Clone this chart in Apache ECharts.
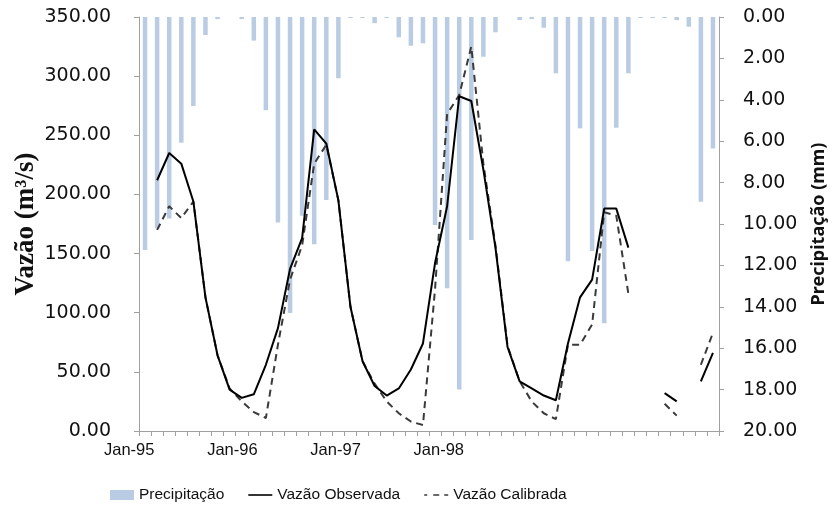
<!DOCTYPE html>
<html>
<head>
<meta charset="utf-8">
<script src="https://cdn.jsdelivr.net/npm/echarts@6/dist/echarts.min.js"></script>
<style>
html,body{margin:0;padding:0;background:#fff;}
#chart{width:837px;height:506px;}
</style>
</head>
<body>
<div id="chart"></div>
<script>
const months = [
  'Jan-95','Feb-95','Mar-95','Apr-95','May-95','Jun-95','Jul-95','Aug-95','Sep-95','Oct-95','Nov-95','Dec-95',
  'Jan-96','Feb-96','Mar-96','Apr-96','May-96','Jun-96','Jul-96','Aug-96','Sep-96','Oct-96','Nov-96','Dec-96',
  'Jan-97','Feb-97','Mar-97','Apr-97','May-97','Jun-97','Jul-97','Aug-97','Sep-97','Oct-97','Nov-97','Dec-97',
  'Jan-98','Feb-98','Mar-98','Apr-98','May-98','Jun-98','Jul-98','Aug-98','Sep-98','Oct-98','Nov-98','Dec-98'
];
const xTickLabels = ['Jan-95','Jan-96','Jan-97','Jan-98'];

const precipitacao = [
  11.26,10.2,9.73,6.07,4.3,0.87,0.1,0,0.1,1.14,4.5,9.93,
  14.3,9.6,10.98,8.84,2.96,0.05,0.05,0.3,0.05,0.98,1.39,1.27,
  10.05,13.1,18.0,10.77,1.92,0.74,0,0.15,0.1,0.52,2.72,11.8,
  5.38,11.3,14.8,5.35,2.72,0.05,0.05,0.05,0.15,0.47,8.92,6.35
];
const vazaoObservada = [
  null,212,235,226,194,113,64,35,28,31,56,87,
  137,163,255,243,195,105,59,38,30,36,52,74,
  142,190,283,279,221,155,71,42,36,30,26,74,
  113,128,188,188,155,null,null,32,25,null,42,66
];
const vazaoCalibrada = [
  null,170,190,180,194,113,64,36,25,16,11,73,
  128,157,226,242,195,105,59,40,25,15,8,5,
  120,268,284,325,226,157,72,42,25,15,10,73,
  73,90,185,182,116,null,null,23,13,null,56,83
];

const leftTicks = {min:0, max:350, interval:50};
const rightTicks = {min:0, max:20, interval:2};

const chart = echarts.init(document.getElementById('chart'), null, {renderer:'canvas'});
const axisGray = '#a0a0a0';
const txt = '#111';
chart.setOption({
  animation:false,
  backgroundColor:'#ffffff',
  grid:[
    {left:139, right:118, top:17, bottom:75},
    {left:77.6, width:412.8, top:17, bottom:75}
  ],
  legend:{
    left:105, top:482,
    itemWidth:24, itemHeight:10, itemGap:24,
    textStyle:{fontFamily:'Liberation Sans', fontSize:15.5, color:txt},
    data:[
      {name:'Precipitação', icon:'rect'},
      {name:'Vazão Observada', icon:'path://M0,0h24v1.6h-24z'},
      {name:'Vazão Calibrada', icon:'path://M0,0h3v1.6h-3z M9,0h6v1.6h-6z M20,0h4v1.6h-4z'}
    ]
  },
  xAxis:[
    {
      type:'category', gridIndex:0, data:months, boundaryGap:true,
      axisLine:{show:true, lineStyle:{color:axisGray, width:1}},
      axisTick:{show:true, interval:0, length:5, inside:false, lineStyle:{color:axisGray}},
      axisLabel:{show:false},
      splitLine:{show:false}
    },
    {
      type:'category', gridIndex:1, data:xTickLabels, boundaryGap:true,
      axisLine:{show:false}, axisTick:{show:false},
      axisLabel:{show:true, margin:11, fontFamily:'Liberation Sans', fontSize:16.5, color:txt, interval:0},
      splitLine:{show:false}
    }
  ],
  yAxis:[
    {
      type:'value', gridIndex:0, position:'left',
      min:leftTicks.min, max:leftTicks.max, interval:leftTicks.interval,
      name:'Vazão (m³/s)', nameLocation:'middle', nameGap:99, nameRotate:90, nameMoveOverlap:false,
      nameTextStyle:{fontFamily:'Liberation Serif', fontWeight:'bold', fontSize:27, color:txt},
      axisLine:{show:true, lineStyle:{color:axisGray}},
      axisTick:{show:true, length:5, lineStyle:{color:axisGray}},
      axisLabel:{margin:28, fontFamily:'DejaVu Sans', fontSize:19, color:txt,
        formatter:v=>v.toFixed(2)},
      splitLine:{show:false}
    },
    {
      type:'value', gridIndex:0, position:'right', inverse:true,
      min:rightTicks.min, max:rightTicks.max, interval:rightTicks.interval,
      name:'Precipitação (mm)', nameLocation:'middle', nameGap:91, nameRotate:90,
      nameTextStyle:{fontFamily:'Noto Sans', fontWeight:'bold', fontSize:18, color:txt},
      axisLine:{show:true, lineStyle:{color:axisGray}},
      axisTick:{show:true, length:5, lineStyle:{color:axisGray}},
      axisLabel:{margin:24, fontFamily:'DejaVu Sans', fontSize:19, color:txt,
        formatter:v=>v.toFixed(2)},
      splitLine:{show:false}
    },
    {type:'value', gridIndex:1, show:false, min:0, max:1}
  ],
  series:[
    {
      name:'Precipitação', type:'bar', xAxisIndex:0, yAxisIndex:1,
      data:precipitacao, barWidth:4.5,
      itemStyle:{color:'#b9cce3'}, z:1
    },
    {
      name:'Vazão Observada', type:'line', xAxisIndex:0, yAxisIndex:0,
      data:vazaoObservada, symbol:'none', connectNulls:false,
      lineStyle:{color:'#000000', width:2}, itemStyle:{color:'#000000'}, z:3
    },
    {
      name:'Vazão Calibrada', type:'line', xAxisIndex:0, yAxisIndex:0,
      data:vazaoCalibrada, symbol:'none', connectNulls:false,
      lineStyle:{color:'#3a3a3a', width:2, type:[7,5]}, itemStyle:{color:'#3a3a3a'}, z:2
    }
  ]
});
</script>
</body>
</html>
